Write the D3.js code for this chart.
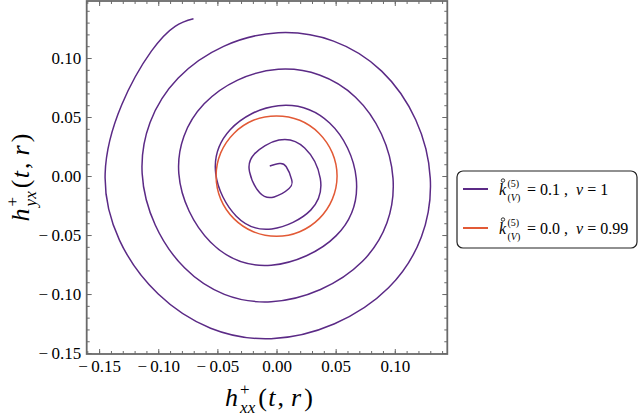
<!DOCTYPE html>
<html><head><meta charset="utf-8">
<script src="https://cdn.jsdelivr.net/npm/d3@7"></script>
<style>
html,body{margin:0;padding:0;background:#fff;}
svg{display:block;}
text{font-family:"Liberation Serif","Times New Roman","DejaVu Serif",serif;fill:#000;}
</style></head>
<body>
<svg id="chart" width="638" height="420"></svg>
<script>
// ---- data ----
const spiralX = [-0.0057,0.0025,0.0081,0.0128,0.0106,-0.0020,-0.0142,-0.0228,-0.0187,0.0020,0.0238,0.0370,0.0289,-0.0040,-0.0340,-0.0514,-0.0392,0.0015,0.0449,0.0674,0.0505,-0.0045,-0.0559,-0.0826,-0.0612,0.0015,0.0668,0.0985,0.0725,-0.0045,-0.0778,-0.1136,-0.0831,0.0015,0.0889,0.1300,0.0947,-0.0045,-0.1000,-0.1449,-0.1058,-0.0702];
const spiralY = [0.0085,0.0106,0.0081,-0.0030,-0.0106,-0.0177,-0.0142,0.0035,0.0187,0.0305,0.0238,-0.0020,-0.0289,-0.0448,-0.0340,0.0020,0.0392,0.0596,0.0449,-0.0020,-0.0505,-0.0755,-0.0559,0.0020,0.0612,0.0904,0.0668,-0.0020,-0.0725,-0.1065,-0.0778,0.0020,0.0831,0.1214,0.0889,-0.0020,-0.0947,-0.1378,-0.1000,0.0020,0.1058,0.1332];
const circleX = [0.0512,0.0472,0.0361,0.0196,0.0000,-0.0196,-0.0361,-0.0472,-0.0511,-0.0472,-0.0361,-0.0196,0.0000,0.0196,0.0361,0.0472];
const circleY = [0.0000,0.0196,0.0361,0.0472,0.0509,0.0472,0.0361,0.0196,0.0000,-0.0196,-0.0361,-0.0472,-0.0511,-0.0472,-0.0361,-0.0196];
const xTicks = [-0.15,-0.10,-0.05,0.00,0.05,0.10];
const yTicks = [-0.15,-0.10,-0.05,0.00,0.05,0.10];
const xDomain = [-0.1605, 0.1444];
const yDomain = [-0.1508, 0.1483];
const seriesNames = ["k1","k0"];
const seriesColors = ["#5b2a86","#e25a36"];
const legendVals = [["0.1","1"],["0.0","0.99"]];

// ---- layout ----
const svg = d3.select("#chart");
const L = 86.7, R = 447.3, T = 1, B = 354;
const x = d3.scaleLinear().domain(xDomain).range([L, R]);
const y = d3.scaleLinear().domain(yDomain).range([B, T]);
const frameCol = "#6a6a6a";
const minor = d3.range(-16, 15).map(i => i / 100);
const fmt = v => { const s = d3.format(".2f")(Math.abs(v) < 1e-9 ? 0 : v); return s.replace("\u2212", "\u2212\u2009"); };
const labelSize = 17;

function styleAxis(g){
  g.select(".domain").remove();
  g.attr("font-family", null).attr("font-size", null);
  g.selectAll(".tick line").attr("stroke", frameCol).attr("stroke-width", 1);
  g.selectAll("text").style("font-family","'Liberation Serif', serif").style("font-size",labelSize+"px").attr("fill","#000");
}
svg.append("g").attr("transform",`translate(0,${B})`)
  .call(d3.axisBottom(x).tickValues(xTicks).tickFormat(fmt).tickSize(-5).tickPadding(5.8)).call(styleAxis);
svg.append("g").attr("transform",`translate(${L},0)`)
  .call(d3.axisLeft(y).tickValues(yTicks).tickFormat(fmt).tickSize(-5).tickPadding(5.5)).call(styleAxis);
svg.append("g").attr("transform",`translate(0,${T})`)
  .call(d3.axisTop(x).tickValues(xTicks).tickFormat("").tickSize(-5)).call(styleAxis);
svg.append("g").attr("transform",`translate(${R},0)`)
  .call(d3.axisRight(y).tickValues(yTicks).tickFormat("").tickSize(-5)).call(styleAxis);
const mx = minor.filter(v=>v>=xDomain[0]&&v<=xDomain[1]);
const my = minor.filter(v=>v>=yDomain[0]&&v<=yDomain[1]);
svg.append("g").attr("transform",`translate(0,${B})`).call(d3.axisBottom(x).tickValues(mx).tickFormat("").tickSize(-3)).call(styleAxis);
svg.append("g").attr("transform",`translate(0,${T})`).call(d3.axisTop(x).tickValues(mx).tickFormat("").tickSize(-3)).call(styleAxis);
svg.append("g").attr("transform",`translate(${L},0)`).call(d3.axisLeft(y).tickValues(my).tickFormat("").tickSize(-3)).call(styleAxis);
svg.append("g").attr("transform",`translate(${R},0)`).call(d3.axisRight(y).tickValues(my).tickFormat("").tickSize(-3)).call(styleAxis);

// curves
svg.append("clipPath").attr("id","pc").append("rect").attr("x",L).attr("y",T).attr("width",R-L).attr("height",B-T);
const spiral = spiralX.map((v,i)=>[v, spiralY[i]]);
const circle = circleX.map((v,i)=>[v, circleY[i]]);
const line = d3.line().x(d=>x(d[0])).y(d=>y(d[1]));
const plot = svg.append("g").attr("clip-path","url(#pc)");
plot.append("path").attr("d", line.curve(d3.curveNatural)(spiral))
  .attr("fill","none").attr("stroke",seriesColors[0]).attr("stroke-width",1.5);
plot.append("path").attr("d", line.curve(d3.curveCatmullRomClosed.alpha(0.5))(circle))
  .attr("fill","none").attr("stroke",seriesColors[1]).attr("stroke-width",1.5);

// frame
svg.append("rect").attr("x",L).attr("y",T).attr("width",R-L).attr("height",B-T)
  .attr("fill","none").attr("stroke",frameCol).attr("stroke-width",1.8);

// math label helper
function mathText(sel, parts){
  parts.forEach(p=>{
    const ts = sel.append("tspan").text(p.t);
    if(p.it) ts.attr("font-style","italic");
    if(p.fs) ts.attr("font-size",p.fs);
    if(p.dx) ts.attr("dx",p.dx);
    if(p.dy) ts.attr("dy",p.dy);
  });
}
const titleSize = 26;
function titleParts(sub){
  return [
    {t:"h",it:true},
    {t:"+",fs:17,dy:-11,dx:2},
    {t:sub,it:true,fs:17,dx:-9.6,dy:17.5},
    {t:"(",dy:-6.5,dx:3},
    {t:"t",it:true,dx:1.5},
    {t:",",dx:2},
    {t:"r",it:true,dx:7},
    {t:")",dx:3}
  ];
}
const xt = svg.append("text").attr("x",(L+R)/2+2).attr("y",406).attr("text-anchor","middle").attr("font-size",titleSize);
mathText(xt, titleParts("xx"));
const yt = svg.append("text").attr("transform",`translate(29,${(T+B)/2}) rotate(-90)`).attr("text-anchor","middle").attr("font-size",titleSize);
mathText(yt, titleParts("yx"));

// legend
const lg = svg.append("g");
lg.append("rect").attr("x",457).attr("y",171).attr("width",180).attr("height",77).attr("rx",6)
  .attr("fill","#fff").attr("stroke","#222").attr("stroke-width",1.2);
seriesNames.forEach((n,i)=>{
  const by = 195 + i*39;
  lg.append("line").attr("x1",463).attr("x2",488).attr("y1",by-6).attr("y2",by-6)
    .attr("stroke",seriesColors[i]).attr("stroke-width",2);
  lg.append("text").attr("x",499).attr("y",by).attr("font-size",16).attr("font-style","italic").text("k");
  lg.append("circle").attr("cx",503).attr("cy",by-14.5).attr("r",1.7).attr("fill","none").attr("stroke","#000").attr("stroke-width",0.8);
  lg.append("text").attr("x",507.5).attr("y",by-8.5).attr("font-size",10).text("(5)");
  const sub = lg.append("text").attr("x",507.5).attr("y",by+5.5).attr("font-size",10);
  sub.append("tspan").text("(");
  sub.append("tspan").attr("font-style","italic").text("V");
  sub.append("tspan").text(")");
  const tx = lg.append("text").attr("x",527).attr("y",by).attr("font-size",16).attr("xml:space","preserve");
  tx.append("tspan").text("= "+legendVals[i][0]+" ,  ");
  tx.append("tspan").attr("font-style","italic").text("v");
  tx.append("tspan").text(" = "+legendVals[i][1]);
});
</script>
</body></html>
